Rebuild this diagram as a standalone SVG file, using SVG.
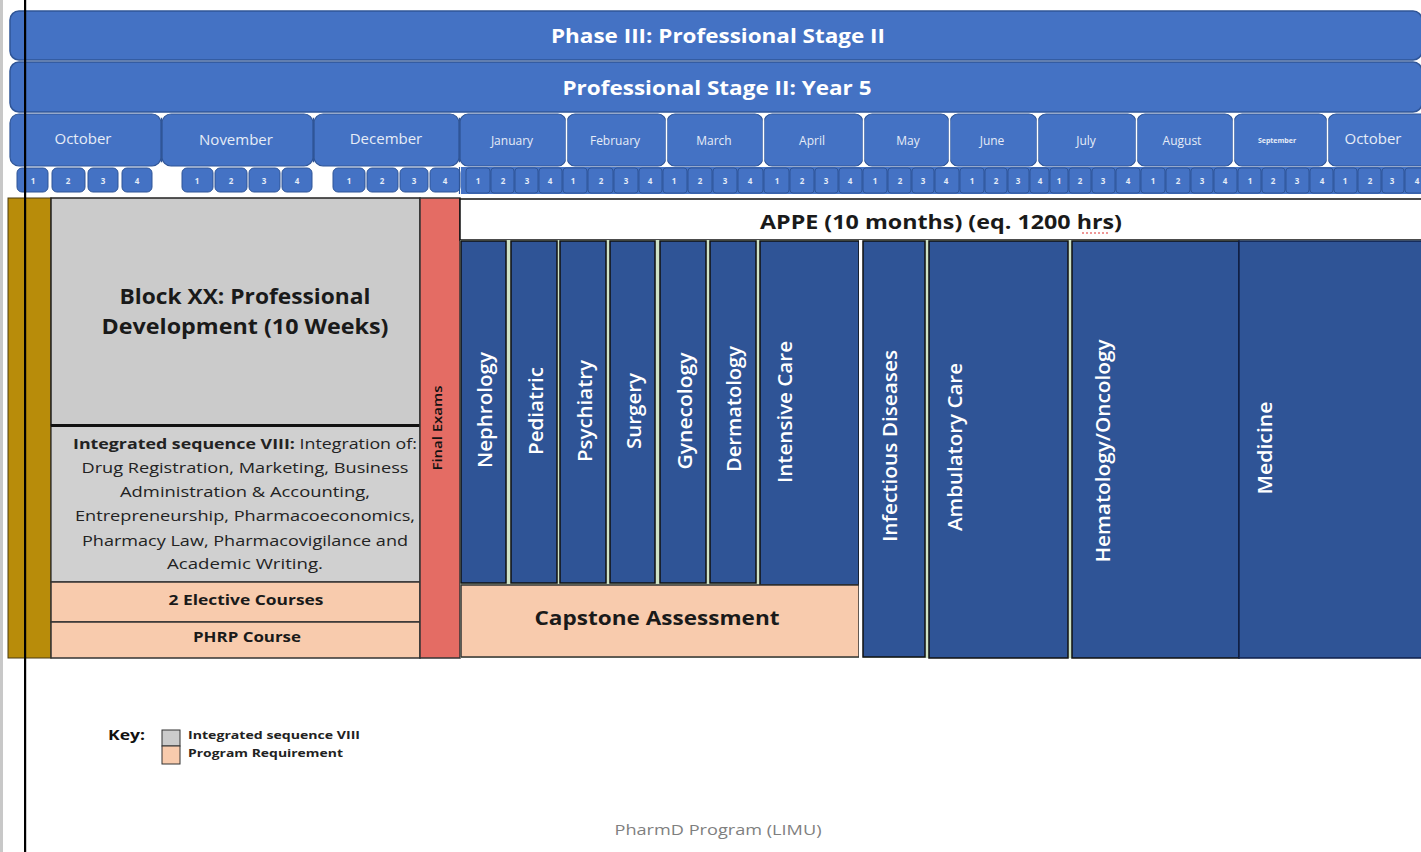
<svg xmlns="http://www.w3.org/2000/svg" width="1421" height="852" viewBox="0 0 1421 852">
<defs>
<style>
.bar{fill:#4472C4;stroke:#2F5597;stroke-width:1.5}
.mon{fill:#4472C4;stroke:#2F5597;stroke-width:1.2}
.wk{fill:#4472C4;stroke:#2F5597;stroke-width:1}
.wt{font-family:"Open Sans","Liberation Sans",sans-serif;font-size:8px;font-weight:700;fill:#E6ECF7;text-anchor:middle}
.mt{font-family:"Open Sans","Liberation Sans",sans-serif;fill:#E6ECF7;text-anchor:middle}
.ttl{font-family:"Open Sans","Liberation Sans",sans-serif;font-weight:700;font-size:20px;fill:#FFFFFF;text-anchor:middle}
.col{fill:#2F5496;stroke:#111111;stroke-width:1.5}
.vl{font-family:"Open Sans","Liberation Sans",sans-serif;font-weight:600;font-size:20px;fill:#FFFFFF;text-anchor:middle}
.blk{font-family:"Open Sans","Liberation Sans",sans-serif;font-weight:700;fill:#1A1A1A;text-anchor:middle}
.seq{font-family:"Open Sans","Liberation Sans",sans-serif;font-size:14px;fill:#222222;text-anchor:middle}
.req{fill:#F8CBAD;stroke:#333333;stroke-width:1.5}
.tri{fill:#FFFFFF}
</style>
</defs>
<rect x="0" y="0" width="1421" height="852" fill="#FFFFFF"/>
<rect x="0" y="0" width="3" height="852" fill="#C8C8C8"/>

<!-- header bars -->
<g id="phase">
<rect class="bar" x="10" y="11" width="1412" height="49" rx="9"/>
<text class="ttl" x="718" y="43" textLength="334" lengthAdjust="spacingAndGlyphs">Phase III: Professional Stage II</text>
</g>
<g id="stage">
<rect class="bar" x="10" y="62" width="1412" height="50" rx="9"/>
<text class="ttl" x="717" y="95" textLength="309" lengthAdjust="spacingAndGlyphs">Professional Stage II: Year 5</text>
</g>

<!-- months -->
<g id="months">
<rect class="mon" x="10" y="114" width="151" height="52" rx="9"/>
<rect class="mon" x="162" y="114" width="151" height="52" rx="9"/>
<rect class="mon" x="314" y="114" width="145" height="52" rx="9"/>
<rect class="mon" x="460" y="114" width="106" height="52" rx="8"/>
<rect class="mon" x="567" y="114" width="99" height="52" rx="8"/>
<rect class="mon" x="667" y="114" width="96" height="52" rx="8"/>
<rect class="mon" x="764" y="114" width="99" height="52" rx="8"/>
<rect class="mon" x="864" y="114" width="85" height="52" rx="8"/>
<rect class="mon" x="950" y="114" width="87" height="52" rx="8"/>
<rect class="mon" x="1038" y="114" width="98" height="52" rx="8"/>
<rect class="mon" x="1137" y="114" width="96" height="52" rx="8"/>
<rect class="mon" x="1234" y="114" width="93" height="52" rx="8"/>
<rect class="mon" x="1328" y="114" width="100" height="52" rx="8"/>
<text class="mt" x="83" y="144" font-size="15">October</text>
<text class="mt" x="236" y="145" font-size="15">November</text>
<text class="mt" x="386" y="144" font-size="15">December</text>
<text class="mt" x="512" y="145" font-size="12">January</text>
<text class="mt" x="615" y="145" font-size="12">February</text>
<text class="mt" x="714" y="145" font-size="12">March</text>
<text class="mt" x="812" y="145" font-size="12">April</text>
<text class="mt" x="908" y="145" font-size="12">May</text>
<text class="mt" x="992" y="145" font-size="12">June</text>
<text class="mt" x="1086" y="145" font-size="12">July</text>
<text class="mt" x="1182" y="145" font-size="12">August</text>
<text class="mt" x="1277" y="143" font-size="7" font-weight="700">September</text>
<text class="mt" x="1373" y="144" font-size="15">October</text>
</g>

<!-- weeks -->
<g id="weeks">
<rect class="wk" x="17" y="168" width="31" height="24" rx="5"/><text class="wt" x="33" y="184">1</text>
<rect class="wk" x="52" y="168" width="33" height="24" rx="5"/><text class="wt" x="68" y="184">2</text>
<rect class="wk" x="88" y="168" width="30" height="24" rx="5"/><text class="wt" x="103" y="184">3</text>
<rect class="wk" x="122" y="168" width="30" height="24" rx="5"/><text class="wt" x="137" y="184">4</text>
<rect class="wk" x="182" y="168" width="31" height="24" rx="5"/><text class="wt" x="197" y="184">1</text>
<rect class="wk" x="215" y="168" width="32" height="24" rx="5"/><text class="wt" x="231" y="184">2</text>
<rect class="wk" x="249" y="168" width="31" height="24" rx="5"/><text class="wt" x="264" y="184">3</text>
<rect class="wk" x="282" y="168" width="30" height="24" rx="5"/><text class="wt" x="297" y="184">4</text>
<rect class="wk" x="333" y="168" width="32" height="24" rx="5"/><text class="wt" x="349" y="184">1</text>
<rect class="wk" x="367" y="168" width="31" height="24" rx="5"/><text class="wt" x="382" y="184">2</text>
<rect class="wk" x="400" y="168" width="28" height="24" rx="5"/><text class="wt" x="414" y="184">3</text>
<rect class="wk" x="430" y="168" width="30" height="24" rx="5"/><text class="wt" x="445" y="184">4</text>

<rect x="461" y="167" width="965" height="27" fill="#4472C4"/>
<rect class="wk" x="466" y="168" width="24" height="25" rx="3"/><text class="wt" x="478" y="184">1</text>
<rect class="wk" x="491" y="168" width="23" height="25" rx="3"/><text class="wt" x="503" y="184">2</text>
<rect class="wk" x="515" y="168" width="23" height="25" rx="3"/><text class="wt" x="527" y="184">3</text>
<rect class="wk" x="539" y="168" width="23" height="25" rx="3"/><text class="wt" x="550" y="184">4</text>
<rect class="wk" x="563" y="168" width="24" height="25" rx="3"/><text class="wt" x="573" y="184">1</text>
<rect class="wk" x="588" y="168" width="25" height="25" rx="3"/><text class="wt" x="601" y="184">2</text>
<rect class="wk" x="614" y="168" width="24" height="25" rx="3"/><text class="wt" x="626" y="184">3</text>
<rect class="wk" x="639" y="168" width="23" height="25" rx="3"/><text class="wt" x="650" y="184">4</text>
<rect class="wk" x="663" y="168" width="24" height="25" rx="3"/><text class="wt" x="674" y="184">1</text>
<rect class="wk" x="688" y="168" width="24" height="25" rx="3"/><text class="wt" x="700" y="184">2</text>
<rect class="wk" x="713" y="168" width="24" height="25" rx="3"/><text class="wt" x="725" y="184">3</text>
<rect class="wk" x="738" y="168" width="25" height="25" rx="3"/><text class="wt" x="750" y="184">4</text>
<rect class="wk" x="764" y="168" width="25" height="25" rx="3"/><text class="wt" x="777" y="184">1</text>
<rect class="wk" x="790" y="168" width="24" height="25" rx="3"/><text class="wt" x="802" y="184">2</text>
<rect class="wk" x="815" y="168" width="23" height="25" rx="3"/><text class="wt" x="826" y="184">3</text>
<rect class="wk" x="839" y="168" width="23" height="25" rx="3"/><text class="wt" x="850" y="184">4</text>
<rect class="wk" x="863" y="168" width="24" height="25" rx="3"/><text class="wt" x="875" y="184">1</text>
<rect class="wk" x="888" y="168" width="23" height="25" rx="3"/><text class="wt" x="900" y="184">2</text>
<rect class="wk" x="912" y="168" width="22" height="25" rx="3"/><text class="wt" x="923" y="184">3</text>
<rect class="wk" x="935" y="168" width="24" height="25" rx="3"/><text class="wt" x="946" y="184">4</text>
<rect class="wk" x="960" y="168" width="24" height="25" rx="3"/><text class="wt" x="972" y="184">1</text>
<rect class="wk" x="985" y="168" width="22" height="25" rx="3"/><text class="wt" x="996" y="184">2</text>
<rect class="wk" x="1008" y="168" width="21" height="25" rx="3"/><text class="wt" x="1018" y="184">3</text>
<rect class="wk" x="1030" y="168" width="19" height="25" rx="3"/><text class="wt" x="1040" y="184">4</text>
<rect class="wk" x="1050" y="168" width="18" height="25" rx="3"/><text class="wt" x="1059" y="184">1</text>
<rect class="wk" x="1069" y="168" width="22" height="25" rx="3"/><text class="wt" x="1080" y="184">2</text>
<rect class="wk" x="1092" y="168" width="23" height="25" rx="3"/><text class="wt" x="1103" y="184">3</text>
<rect class="wk" x="1116" y="168" width="24" height="25" rx="3"/><text class="wt" x="1128" y="184">4</text>
<rect class="wk" x="1141" y="168" width="24" height="25" rx="3"/><text class="wt" x="1153" y="184">1</text>
<rect class="wk" x="1166" y="168" width="24" height="25" rx="3"/><text class="wt" x="1178" y="184">2</text>
<rect class="wk" x="1191" y="168" width="22" height="25" rx="3"/><text class="wt" x="1202" y="184">3</text>
<rect class="wk" x="1214" y="168" width="23" height="25" rx="3"/><text class="wt" x="1225" y="184">4</text>
<rect class="wk" x="1238" y="168" width="23" height="25" rx="3"/><text class="wt" x="1250" y="184">1</text>
<rect class="wk" x="1262" y="168" width="23" height="25" rx="3"/><text class="wt" x="1273" y="184">2</text>
<rect class="wk" x="1286" y="168" width="23" height="25" rx="3"/><text class="wt" x="1297" y="184">3</text>
<rect class="wk" x="1310" y="168" width="23" height="25" rx="3"/><text class="wt" x="1322" y="184">4</text>
<rect class="wk" x="1334" y="168" width="23" height="25" rx="3"/><text class="wt" x="1345" y="184">1</text>
<rect class="wk" x="1358" y="168" width="23" height="25" rx="3"/><text class="wt" x="1370" y="184">2</text>
<rect class="wk" x="1382" y="168" width="22" height="25" rx="3"/><text class="wt" x="1392" y="184">3</text>
<rect class="wk" x="1405" y="168" width="22" height="25" rx="3"/><text class="wt" x="1417" y="184">4</text>
<rect x="461" y="194" width="960" height="2" fill="#FFFFFF"/>
</g>

<!-- month boundary markers -->
<g id="connectors">
<g stroke="#2F5597" stroke-width="1.2">
<line x1="161.5" y1="116" x2="161.5" y2="166"/>
<line x1="313.5" y1="116" x2="313.5" y2="166"/>
<line x1="459.5" y1="116" x2="459.5" y2="194"/>
</g>
<g stroke="#FFFFFF" stroke-width="1.5">
<line x1="566.5" y1="116" x2="566.5" y2="166"/>
<line x1="666.5" y1="116" x2="666.5" y2="166"/>
<line x1="763.5" y1="116" x2="763.5" y2="166"/>
<line x1="863.5" y1="116" x2="863.5" y2="166"/>
<line x1="949.5" y1="116" x2="949.5" y2="166"/>
<line x1="1037.5" y1="116" x2="1037.5" y2="166"/>
<line x1="1136.5" y1="116" x2="1136.5" y2="166"/>
<line x1="1233.5" y1="116" x2="1233.5" y2="166"/>
<line x1="1327.5" y1="116" x2="1327.5" y2="166"/>
</g>
<g class="tri">
<path d="M156 113 h11 l-5.5 5 z"/><path d="M308 113 h11 l-5.5 5 z"/><path d="M454 113 h11 l-5.5 5 z"/>
<path d="M561 113 h11 l-5.5 5 z"/><path d="M661 113 h11 l-5.5 5 z"/><path d="M758 113 h11 l-5.5 5 z"/>
<path d="M858 113 h11 l-5.5 5 z"/><path d="M944 113 h11 l-5.5 5 z"/><path d="M1032 113 h11 l-5.5 5 z"/>
<path d="M1131 113 h11 l-5.5 5 z"/><path d="M1228 113 h11 l-5.5 5 z"/><path d="M1322 113 h11 l-5.5 5 z"/>
<path d="M157 167 h9 l-4.5 -5 z"/><path d="M309 167 h9 l-4.5 -5 z"/><path d="M455 167 h9 l-4.5 -5 z"/>
<path d="M561 167 h11 l-5.5 -5 z"/><path d="M661 167 h11 l-5.5 -5 z"/><path d="M758 167 h11 l-5.5 -5 z"/>
<path d="M858 167 h11 l-5.5 -5 z"/><path d="M944 167 h11 l-5.5 -5 z"/><path d="M1032 167 h11 l-5.5 -5 z"/>
<path d="M1131 167 h11 l-5.5 -5 z"/><path d="M1228 167 h11 l-5.5 -5 z"/><path d="M1322 167 h11 l-5.5 -5 z"/>
</g>
</g>

<!-- left side blocks -->
<g id="gold">
<rect x="8" y="198" width="43" height="460" fill="#B88C0A" stroke="#4A3A10" stroke-width="1"/>
</g>
<g id="block-xx">
<rect x="51" y="198" width="369" height="227" fill="#CBCBCB" stroke="#222222" stroke-width="1.5"/>
<text class="blk" x="245" y="304" font-size="21" textLength="251" lengthAdjust="spacingAndGlyphs">Block XX: Professional</text>
<text class="blk" x="245" y="334" font-size="21" textLength="287" lengthAdjust="spacingAndGlyphs">Development (10 Weeks)</text>
</g>
<g id="integrated-seq">
<rect x="51" y="425" width="369" height="157" fill="#D0D0D0" stroke="#222222" stroke-width="1.2"/>
<line x1="51" y1="425.5" x2="420" y2="425.5" stroke="#111111" stroke-width="3"/>
<text class="seq" x="245" y="449" textLength="344" lengthAdjust="spacingAndGlyphs"><tspan font-weight="700">Integrated sequence VIII:</tspan> Integration of:</text>
<text class="seq" x="245" y="473" textLength="327" lengthAdjust="spacingAndGlyphs">Drug Registration, Marketing, Business</text>
<text class="seq" x="245" y="497" textLength="250" lengthAdjust="spacingAndGlyphs">Administration &amp; Accounting,</text>
<text class="seq" x="245" y="521" textLength="340" lengthAdjust="spacingAndGlyphs">Entrepreneurship, Pharmacoeconomics,</text>
<text class="seq" x="245" y="546" textLength="326" lengthAdjust="spacingAndGlyphs">Pharmacy Law, Pharmacovigilance and</text>
<text class="seq" x="245" y="569" textLength="156" lengthAdjust="spacingAndGlyphs">Academic Writing.</text>
</g>
<g id="electives">
<rect class="req" x="51" y="582" width="369" height="40"/>
<text class="blk" x="246" y="605" font-size="14" textLength="155" lengthAdjust="spacingAndGlyphs">2 Elective Courses</text>
</g>
<g id="phrp">
<rect class="req" x="51" y="622" width="369" height="36"/>
<text class="blk" x="247" y="642" font-size="14" textLength="108" lengthAdjust="spacingAndGlyphs">PHRP Course</text>
</g>
<g id="final-exams">
<rect x="420" y="198" width="40" height="460" fill="#E46C64" stroke="#333333" stroke-width="1.5"/>
<text transform="translate(442,428) rotate(-90)" font-family="'Open Sans','Liberation Sans',sans-serif" font-size="12" font-weight="600" fill="#111111" text-anchor="middle" textLength="85" lengthAdjust="spacingAndGlyphs">Final Exams</text>
</g>

<!-- APPE -->
<g id="appe">
<rect x="460" y="199" width="966" height="41" fill="#FFFFFF" stroke="#111111" stroke-width="1.5"/>
<text class="blk" x="941" y="229" font-size="20" textLength="362" lengthAdjust="spacingAndGlyphs">APPE (10 months) (eq. 1200 hrs)</text>
<line x1="1082" y1="233" x2="1108" y2="233" stroke="#E03030" stroke-width="1.2" stroke-dasharray="2,2"/>
</g>
<rect x="460" y="240" width="962" height="418" fill="#CFE3C6"/>
<g id="nephrology"><rect class="col" x="461" y="241" width="45" height="342"/>
<text class="vl" transform="translate(492,410) rotate(-90)" textLength="116" lengthAdjust="spacingAndGlyphs">Nephrology</text></g>
<g id="pediatric"><rect class="col" x="511" y="241" width="46" height="342"/>
<text class="vl" transform="translate(543,411) rotate(-90)" textLength="88" lengthAdjust="spacingAndGlyphs">Pediatric</text></g>
<g id="psychiatry"><rect class="col" x="560" y="241" width="46" height="342"/>
<text class="vl" transform="translate(592,411) rotate(-90)" textLength="102" lengthAdjust="spacingAndGlyphs">Psychiatry</text></g>
<g id="surgery"><rect class="col" x="610" y="241" width="45" height="342"/>
<text class="vl" transform="translate(641,411) rotate(-90)" textLength="76" lengthAdjust="spacingAndGlyphs">Surgery</text></g>
<g id="gynecology"><rect class="col" x="660" y="241" width="46" height="342"/>
<text class="vl" transform="translate(692,411) rotate(-90)" textLength="117" lengthAdjust="spacingAndGlyphs">Gynecology</text></g>
<g id="dermatology"><rect class="col" x="710" y="241" width="46" height="342"/>
<text class="vl" transform="translate(741,409) rotate(-90)" textLength="126" lengthAdjust="spacingAndGlyphs">Dermatology</text></g>
<g id="intensive-care"><rect class="col" x="760" y="241" width="99" height="344"/>
<text class="vl" transform="translate(792,412) rotate(-90)" textLength="142" lengthAdjust="spacingAndGlyphs">Intensive Care</text></g>
<g id="capstone"><rect class="req" x="461" y="585" width="398" height="72"/>
<text class="blk" x="657" y="625" font-size="20" textLength="245" lengthAdjust="spacingAndGlyphs">Capstone Assessment</text></g>
<rect x="859" y="240" width="4" height="418" fill="#FFFFFF"/>
<g id="infectious"><rect class="col" x="863" y="241" width="62" height="416"/>
<text class="vl" transform="translate(897,446) rotate(-90)" textLength="192" lengthAdjust="spacingAndGlyphs">Infectious Diseases</text></g>
<g id="ambulatory"><rect class="col" x="929" y="241" width="139" height="417"/>
<text class="vl" transform="translate(962,447) rotate(-90)" textLength="168" lengthAdjust="spacingAndGlyphs">Ambulatory Care</text></g>
<g id="hematology"><rect class="col" x="1072" y="241" width="167" height="417"/>
<text class="vl" transform="translate(1110,451) rotate(-90)" textLength="223" lengthAdjust="spacingAndGlyphs">Hematology/Oncology</text></g>
<g id="medicine"><rect x="1239" y="241" width="187" height="417" fill="#2F5496" stroke="#0F1F4A" stroke-width="1.5"/>
<text class="vl" transform="translate(1272,448) rotate(-90)" textLength="93" lengthAdjust="spacingAndGlyphs">Medicine</text></g>

<!-- key -->
<g id="key">
<text x="108" y="740" font-family="'Open Sans','Liberation Sans',sans-serif" font-size="14" font-weight="700" fill="#111111" textLength="37" lengthAdjust="spacingAndGlyphs">Key:</text>
<rect x="162" y="730" width="18" height="16" fill="#CBCBCB" stroke="#333333" stroke-width="1"/>
<rect x="162" y="746" width="18" height="18" fill="#F8CBAD" stroke="#333333" stroke-width="1"/>
<text x="188" y="739" font-family="'Open Sans','Liberation Sans',sans-serif" font-size="11" font-weight="700" fill="#222222" textLength="172" lengthAdjust="spacingAndGlyphs">Integrated sequence VIII</text>
<text x="188" y="757" font-family="'Open Sans','Liberation Sans',sans-serif" font-size="11" font-weight="700" fill="#222222" textLength="155" lengthAdjust="spacingAndGlyphs">Program Requirement</text>
</g>

<g id="footer">
<text x="718" y="835" font-family="'Open Sans','Liberation Sans',sans-serif" font-size="15" fill="#7F7F7F" text-anchor="middle" textLength="207" lengthAdjust="spacingAndGlyphs">PharmD Program (LIMU)</text>
</g>

<rect x="24" y="0" width="2.2" height="852" fill="#000000"/>
</svg>
